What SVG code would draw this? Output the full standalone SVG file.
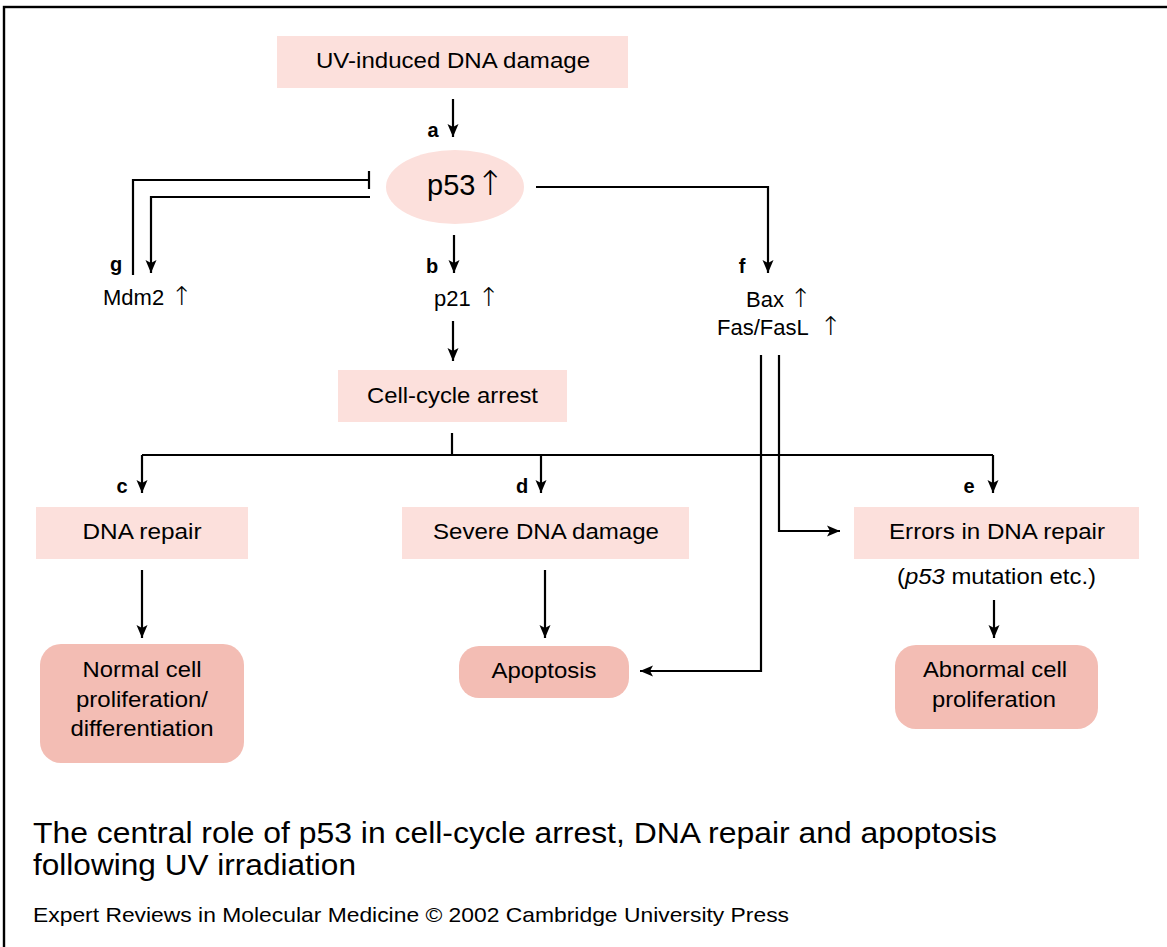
<svg xmlns="http://www.w3.org/2000/svg" width="1167" height="947" viewBox="0 0 1167 947">
<defs>
<style>
text{font-family:"Liberation Sans",Arial,sans-serif;fill:#000}
.lbl{font-size:22px;text-anchor:middle}
.gene{font-size:22px}
.up{font-family:"DejaVu Sans",sans-serif;font-weight:200;font-size:26px}
.let{font-size:20px;font-weight:bold;text-anchor:middle}
.light{fill:#fce0dc}
.dark{fill:#f3bdb4}
.ln{fill:none;stroke:#000;stroke-width:2.2}
.arr{marker-end:url(#ah)}
</style>
<marker id="ah" markerUnits="userSpaceOnUse" markerWidth="14" markerHeight="12" refX="13" refY="6" orient="auto">
<path d="M0,0.5 L13,6 L0,11.5 L3,6 z" fill="#000"/>
</marker>
</defs>
<rect x="4" y="7" width="1200" height="1000" fill="#fff" stroke="#000" stroke-width="2.4"/>

<g id="connectors">
<path class="ln arr" d="M453,99 V137"/>
<path class="ln" d="M133,275 V180 H369"/>
<path class="ln" d="M369,171 V189"/>
<path class="ln arr" d="M370,197 H151 V273"/>
<path class="ln arr" d="M454,235 V273"/>
<path class="ln arr" d="M536,187 H768 V273"/>
<path class="ln arr" d="M453,321 V361"/>
<path class="ln" d="M452,433 V455"/>
<path class="ln" d="M142,455 H993"/>
<path class="ln arr" d="M142,455 V493"/>
<path class="ln arr" d="M541,455 V493"/>
<path class="ln arr" d="M993,455 V493"/>
<path class="ln arr" d="M142,570 V638"/>
<path class="ln arr" d="M545,570 V638"/>
<path class="ln arr" d="M994,600 V638"/>
<path class="ln arr" d="M761,355 V671 H640"/>
<path class="ln arr" d="M779,355 V531 H840"/>
</g>

<g id="node-uv">
<rect class="light" x="277" y="36" width="351" height="52"/>
<text class="lbl" x="453" y="68" textLength="274" lengthAdjust="spacingAndGlyphs">UV-induced DNA damage</text>
</g>
<g id="label-a"><text class="let" x="433" y="137">a</text></g>

<g id="node-p53">
<ellipse class="light" cx="455" cy="187" rx="69" ry="37"/>
<text x="427" y="195" font-size="29">p53<tspan class="up" x="476" style="font-size:34px">↑</tspan></text>
</g>

<g id="label-g"><text class="let" x="116" y="271">g</text></g>
<g id="node-mdm2"><text class="gene" x="103" y="305">Mdm2 <tspan class="up" x="171">↑</tspan></text></g>

<g id="label-b"><text class="let" x="432" y="273">b</text></g>
<g id="node-p21"><text class="gene" x="434" y="306">p21 <tspan class="up" x="478">↑</tspan></text></g>

<g id="label-f"><text class="let" x="742" y="273">f</text></g>
<g id="node-bax">
<text class="gene" x="746" y="307">Bax <tspan class="up" x="790">↑</tspan></text>
<text class="gene" x="717" y="335">Fas/FasL <tspan class="up" x="820">↑</tspan></text>
</g>

<g id="node-cellcycle">
<rect class="light" x="338" y="370" width="229" height="52"/>
<text class="lbl" x="452.5" y="403" textLength="171" lengthAdjust="spacingAndGlyphs">Cell-cycle arrest</text>
</g>

<g id="label-c"><text class="let" x="122" y="493">c</text></g>
<g id="label-d"><text class="let" x="522" y="493">d</text></g>
<g id="label-e"><text class="let" x="969" y="493">e</text></g>

<g id="node-dnarepair">
<rect class="light" x="36" y="507" width="212" height="52"/>
<text class="lbl" x="142" y="539" textLength="119" lengthAdjust="spacingAndGlyphs">DNA repair</text>
</g>

<g id="node-severe">
<rect class="light" x="402" y="507" width="287" height="52"/>
<text class="lbl" x="546" y="539" textLength="226" lengthAdjust="spacingAndGlyphs">Severe DNA damage</text>
</g>

<g id="node-errors">
<rect class="light" x="854" y="507" width="285" height="52"/>
<text class="lbl" x="997" y="539" textLength="216" lengthAdjust="spacingAndGlyphs">Errors in DNA repair</text>
<text class="gene" x="897" y="584" textLength="199" lengthAdjust="spacingAndGlyphs">(<tspan font-style="italic">p53</tspan> mutation etc.)</text>
</g>

<g id="node-normal">
<rect class="dark" x="40" y="644" width="204" height="119" rx="21" ry="21"/>
<text class="lbl" x="142" y="677" textLength="119" lengthAdjust="spacingAndGlyphs">Normal cell</text>
<text class="lbl" x="142" y="707" textLength="132" lengthAdjust="spacingAndGlyphs">proliferation/</text>
<text class="lbl" x="142" y="736" textLength="143" lengthAdjust="spacingAndGlyphs">differentiation</text>
</g>

<g id="node-apoptosis">
<rect class="dark" x="459" y="646" width="170" height="52" rx="20" ry="20"/>
<text class="lbl" x="544" y="678" textLength="105" lengthAdjust="spacingAndGlyphs">Apoptosis</text>
</g>

<g id="node-abnormal">
<rect class="dark" x="895" y="645" width="203" height="84" rx="21" ry="21"/>
<text class="lbl" x="995" y="677" textLength="144" lengthAdjust="spacingAndGlyphs">Abnormal cell</text>
<text class="lbl" x="994" y="707" textLength="124" lengthAdjust="spacingAndGlyphs">proliferation</text>
</g>

<g id="caption">
<text x="33" y="843" font-size="30" textLength="964" lengthAdjust="spacingAndGlyphs">The central role of p53 in cell-cycle arrest, DNA repair and apoptosis</text>
<text x="33" y="875" font-size="30" textLength="323" lengthAdjust="spacingAndGlyphs">following UV irradiation</text>
<text x="33" y="922" font-size="21" textLength="756" lengthAdjust="spacingAndGlyphs">Expert Reviews in Molecular Medicine © 2002 Cambridge University Press</text>
</g>
</svg>
